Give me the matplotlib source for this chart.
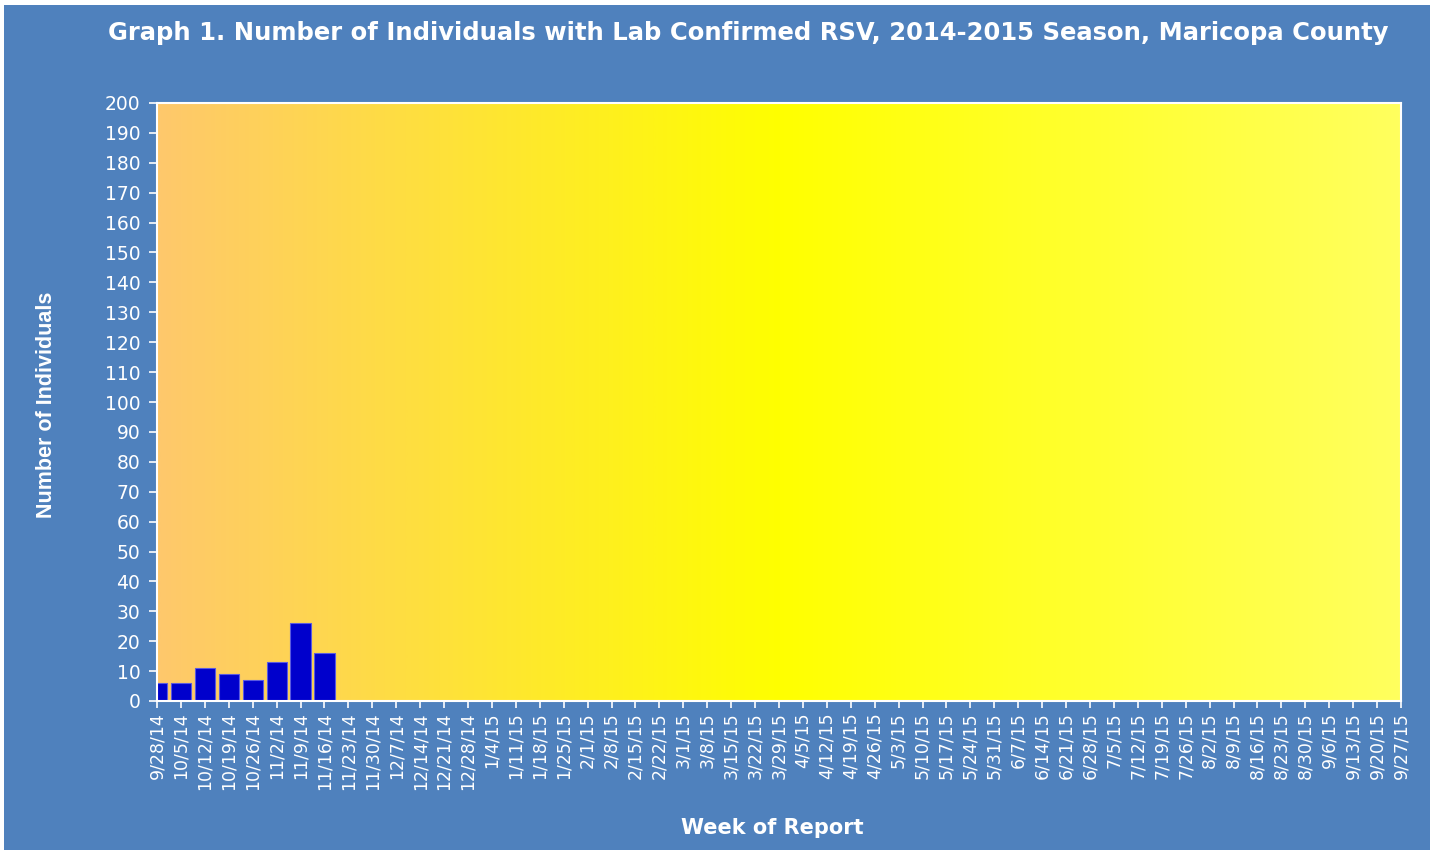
import numpy as np
import matplotlib
matplotlib.use("Agg")
import matplotlib.pyplot as plt
from matplotlib.colors import LinearSegmentedColormap
from matplotlib.patches import Rectangle

# weekly report dates, 2014-2015 season
weeks = ["9/28/14", "10/5/14", "10/12/14", "10/19/14", "10/26/14", "11/2/14",
         "11/9/14", "11/16/14", "11/23/14", "11/30/14", "12/7/14", "12/14/14",
         "12/21/14", "12/28/14", "1/4/15", "1/11/15", "1/18/15", "1/25/15",
         "2/1/15", "2/8/15", "2/15/15", "2/22/15", "3/1/15", "3/8/15",
         "3/15/15", "3/22/15", "3/29/15", "4/5/15", "4/12/15", "4/19/15",
         "4/26/15", "5/3/15", "5/10/15", "5/17/15", "5/24/15", "5/31/15",
         "6/7/15", "6/14/15", "6/21/15", "6/28/15", "7/5/15", "7/12/15",
         "7/19/15", "7/26/15", "8/2/15", "8/9/15", "8/16/15", "8/23/15",
         "8/30/15", "9/6/15", "9/13/15", "9/20/15", "9/27/15"]
# reported so far (first 8 weeks)
counts = [6, 6, 11, 9, 7, 13, 26, 16]
yticks = list(range(0, 201, 10))

bg = "#4F81BD"
fig = plt.figure(figsize=(14.37, 8.5), dpi=100)
fig.patch.set_facecolor("white")
fig.patches.append(Rectangle((4/1437, 0), 1426/1437, 845/850, transform=fig.transFigure,
                             facecolor=bg, edgecolor="none", zorder=-10))

ax = fig.add_axes([157/1437, 1 - 701/850, 1244/1437, 598/850])
ax.set_zorder(1)
ax.set_facecolor("none")

# gradient fill of plot area: orange -> yellow -> light yellow
cmap = LinearSegmentedColormap.from_list(
    "grad", [(0, "#FEC86C"), (0.5, "#FFFF00"), (1, "#FFFF5E")])
grad = np.linspace(0, 1, 512).reshape(1, -1)
ax.imshow(grad, cmap=cmap, aspect="auto", extent=[0, 1, 0, 1],
          transform=ax.transAxes, zorder=0)

x = np.arange(len(counts))
ax.bar(x, counts, width=0.84, color="#0000CC", edgecolor="#5A5AE0",
       linewidth=0.8, zorder=2)

ax.set_xlim(0, len(weeks) - 1)
ax.set_ylim(0, 200)
ax.set_xticks(np.arange(len(weeks)))
ax.set_xticklabels(weeks, rotation=90, color="white", fontsize=12.5)
ax.set_yticks(yticks)
ax.set_yticklabels([str(v) for v in yticks], color="white", fontsize=13.5)
ax.tick_params(axis="x", colors="white", length=5, width=1.2, pad=3)
ax.tick_params(axis="y", colors="white", length=6, width=1.2, pad=6)
for s in ax.spines.values():
    s.set_color("white")
    s.set_linewidth(1.5)
for lbl in ax.get_xticklabels() + ax.get_yticklabels():
    lbl.set_color("white")

fig.text(748/1437, 1 - 33/850,
         "Graph 1. Number of Individuals with Lab Confirmed RSV, 2014-2015 Season, Maricopa County",
         ha="center", va="center", color="white", fontsize=17.5, fontweight="bold")
fig.text(47/1437, 1 - 405/850, "Number of Individuals", rotation=90,
         ha="center", va="center", color="white", fontsize=15.5, fontweight="bold",
         family="Liberation Sans")
fig.text(772/1437, 1 - 828/850, "Week of Report", ha="center", va="center",
         color="white", fontsize=15, fontweight="bold")

fig.savefig("out.png", dpi=100)
